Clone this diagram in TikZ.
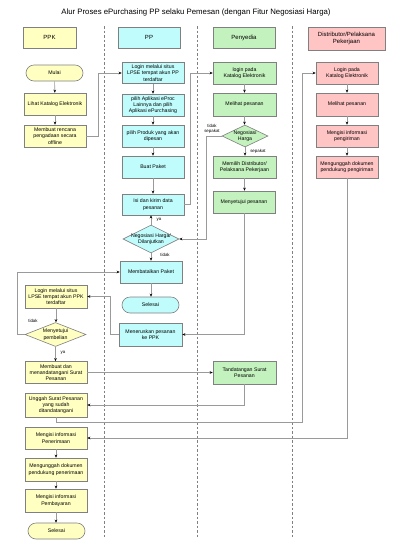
\documentclass[tikz,border=0pt]{standalone}
\usepackage{fontspec}
\setmainfont{Liberation Sans}
\usetikzlibrary{arrows.meta,shapes.geometric}
\definecolor{ppkc}{HTML}{FFFFC2}
\definecolor{ppc}{HTML}{C0FCFC}
\definecolor{penc}{HTML}{C4F2BE}
\definecolor{distc}{HTML}{FFC4C4}
\definecolor{bordc}{HTML}{808080}
\definecolor{linec}{HTML}{9A9A9A}
\begin{document}
\begin{tikzpicture}[x=1pt,y=-1pt,
  box/.style={draw=bordc, line width=0.6pt, minimum width=62pt, minimum height=22pt,
    inner sep=0pt, align=center, font=\fontsize{5.2}{6.3}\selectfont},
  ppkbox/.style={box, fill=ppkc},
  ppbox/.style={box, fill=ppc},
  penbox/.style={box, fill=penc},
  distbox/.style={box, fill=distc},
  term/.style={box, minimum width=57pt, minimum height=16pt, rounded corners=8pt},
  dia/.style={diamond, draw=bordc, line width=0.6pt, inner sep=0pt},
  txt/.style={inner sep=0pt, align=center, font=\fontsize{5.2}{6.3}\selectfont},
  lbl/.style={inner sep=0pt, align=center, font=\fontsize{4.4}{5}\selectfont},
  head/.style={draw=bordc, line width=0.6pt, inner sep=0pt, align=center,
    font=\fontsize{6}{7}\selectfont},
  arr/.style={draw=linec, line width=0.6pt, -{Stealth[length=3pt,width=2.6pt,color=black]}},
  lane/.style={draw=gray, line width=0.5pt, dash pattern=on 2.5pt off 2pt}
]
\fill[white] (0,0) rectangle (409,550);
\useasboundingbox (0,0) rectangle (409,550);

% title
\node[inner sep=0pt, font=\fontsize{7.8}{9}\selectfont] (title) at (196,12)
  {Alur Proses ePurchasing PP selaku Pemesan (dengan Fitur Negosiasi Harga)};

% lane headers
\node[head, fill=ppkc, minimum width=53pt, minimum height=21pt] (hppk) at (49.5,37.5) {PPK};
\node[head, fill=ppc, minimum width=62pt, minimum height=21pt] (hpp) at (149,37.5) {PP};
\node[head, fill=penc, minimum width=62pt, minimum height=21pt] (hpen) at (244,37.5) {Penyedia};
\node[head, fill=distc, minimum width=77pt, minimum height=23pt] (hdist) at (346.5,38.5)
  {Distributor/Pelaksana\\Pekerjaan};

% lane dividers
\coordinate (l1a) at (104,26); \coordinate (l1b) at (104,538);
\coordinate (l2a) at (197,26); \coordinate (l2b) at (197,538);
\coordinate (l3a) at (292,26); \coordinate (l3b) at (292,538);
\draw[lane] (l1a) -- (l1b);
\draw[lane] (l2a) -- (l2b);
\draw[lane] (l3a) -- (l3b);

% PPK lane
\node[term, fill=ppkc] (mulai) at (54.5,73) {Mulai};
\node[ppkbox] (lihat) at (55,104) {Lihat Katalog Elektronik};
\node[ppkbox] (rencana) at (55,136) {Membuat rencana\\pengadaan secara\\offline};
\node[ppkbox, minimum height=23pt] (ppklogin) at (56,296.5) {Login melalui situs\\LPSE tempat akun PPK\\terdaftar};
\node[dia, fill=ppkc, minimum width=61pt, minimum height=24pt] (d3) at (55.5,334.5) {};
\node[txt] (d3t) at (d3) {Menyetujui\\pembelian};
\node[ppkbox] (membuatsp) at (56,372.5) {Membuat dan\\menandatangani Surat\\Pesanan};
\node[ppkbox, minimum height=24pt] (unggah) at (56,405) {Unggah Surat Pesanan\\yang sudah\\ditandatangani};
\node[ppkbox] (terima) at (56,438) {Mengisi informasi\\Penerimaan};
\node[ppkbox, minimum height=23pt] (unggahterima) at (56,469.5) {Mengunggah dokumen\\pendukung penerimaan};
\node[ppkbox, minimum height=23pt] (bayar) at (56,500.5) {Mengisi informasi\\Pembayaran};
\node[term, fill=ppkc] (selesai1) at (56.5,531) {Selesai};

% PP lane
\node[ppbox, minimum height=21pt] (pplogin) at (153,73) {Login melalui situs\\LPSE tempat akun PP\\terdaftar};
\node[ppbox] (pilihapp) at (153,105) {pilih Aplikasi eProc\\Lainnya dan pilih\\Aplikasi ePurchasing};
\node[ppbox] (pilihprod) at (153,136) {pilih Produk yang akan\\dipesan};
\node[ppbox] (buat) at (153,167) {Buat Paket};
\node[ppbox, minimum height=21pt] (isi) at (153,204.5) {Isi dan kirim data\\pesanan};
\node[dia, fill=ppc, minimum width=56pt, minimum height=28pt] (d2) at (151,239) {};
\node[txt] (d2t) at (d2) {Negosiasi Harga/\\Dilanjutkan};
\node[ppbox] (batal) at (151,272) {Membatalkan Paket};
\node[term, fill=ppc] (selesai2) at (150.5,305) {Selesai};
\node[ppbox, minimum width=63pt, minimum height=23pt] (teruskan) at (150.5,334.5) {Meneruskan pesanan\\ke PPK};

% Penyedia lane
\node[penbox, minimum width=63pt] (penlogin) at (244.5,73) {login pada\\Katalog Elektronik};
\node[penbox, minimum width=63pt, minimum height=23pt] (penlihat) at (244.5,104.5) {Melihat pesanan};
\node[dia, fill=penc, minimum width=46pt, minimum height=22pt] (d1) at (245,136) {};
\node[txt] (d1t) at (d1) {Negosiasi\\Harga};
\node[penbox, minimum width=63pt] (memilih) at (244.5,167) {Memilih Distributor/\\Pelaksana Pekerjaan};
\node[penbox] (setuju) at (244,202) {Menyetujui pesanan};
\node[penbox, minimum width=63pt, minimum height=23pt] (ttd) at (244.5,372.5) {Tandatangan Surat\\Pesanan};

% Distributor lane
\node[distbox] (distlogin) at (347,73) {Login pada\\Katalog Elektronik};
\node[distbox, minimum height=23pt] (distlihat) at (347,104.5) {Melihat pesanan};
\node[distbox] (distisi) at (347,136) {Mengisi informasi\\pengiriman};
\node[distbox] (distunggah) at (347,167) {Mengunggah dokumen\\pendukung pengiriman};

% labels
\node[lbl] (ltsp) at (212,129) {tidak\\sepakat};
\node[lbl] (lsp) at (258,151) {sepakat};
\node[lbl] (lya1) at (159,220) {ya};
\node[lbl] (ltd1) at (165,255) {tidak};
\node[lbl] (ltd2) at (33,321) {tidak};
\node[lbl] (lya2) at (63,353) {ya};

% helper coordinate
\coordinate (c1) at (302,73);

% connectors: PPK
\draw[arr] (mulai) -- (lihat);
\draw[arr] (lihat) -- (rencana);
\draw[arr] (rencana.east) -- ++(12,0) |- (pplogin.west);
% PP
\draw[arr] (pplogin) -- (pilihapp);
\draw[arr] (pilihapp) -- (pilihprod);
\draw[arr] (pilihprod) -- (buat);
\draw[arr] (buat.south) -- (buat.south |- isi.north);
\draw[arr] (isi.east) -- ++(6,0) |- (penlogin.west);
% Penyedia
\draw[arr] (penlogin) -- (penlihat);
\draw[arr] (penlihat.south) -- (penlihat.south |- d1.north);
\draw[arr] (d1.south) -- (d1.south |- memilih.north);
\draw[arr] (memilih.south) -- (memilih.south |- setuju.north);
\draw[arr] (d1.west) -- ++(-15,0) |- (d2.east);
% PP decision
\draw[arr] (d2.north) -- (d2.north |- isi.south);
\draw[arr] (d2.south) -- (d2.south |- batal.north);
\draw[arr] (batal.south) -- (batal.south |- selesai2.north);
\draw[arr] (setuju.south) |- (teruskan.east);
\draw[arr] (teruskan.west) -- ++(-8,0) |- (ppklogin.east);
% PPK approval
\draw[arr] (ppklogin.south) -- (ppklogin.south |- d3.north);
\draw[arr] (d3.west) -- ++(-7,0) |- (batal.west);
\draw[arr] (d3.south) -- (d3.south |- membuatsp.north);
\draw[arr] (membuatsp.east) -- (ttd.west);
\draw[arr] (ttd.south) |- (unggah.east);
\draw[arr] (unggah.south) -- ++(0,4.5) -| (c1) -- (distlogin.west);
% Distributor
\draw[arr] (distlogin) -- (distlihat);
\draw[arr] (distlihat) -- (distisi);
\draw[arr] (distisi) -- (distunggah);
\draw[arr] (distunggah.south) |- (terima.east);
% PPK end
\draw[arr] (terima) -- (unggahterima);
\draw[arr] (unggahterima) -- (bayar);
\draw[arr] (bayar.south) -- (bayar.south |- selesai1.north);
\end{tikzpicture}
\end{document}
